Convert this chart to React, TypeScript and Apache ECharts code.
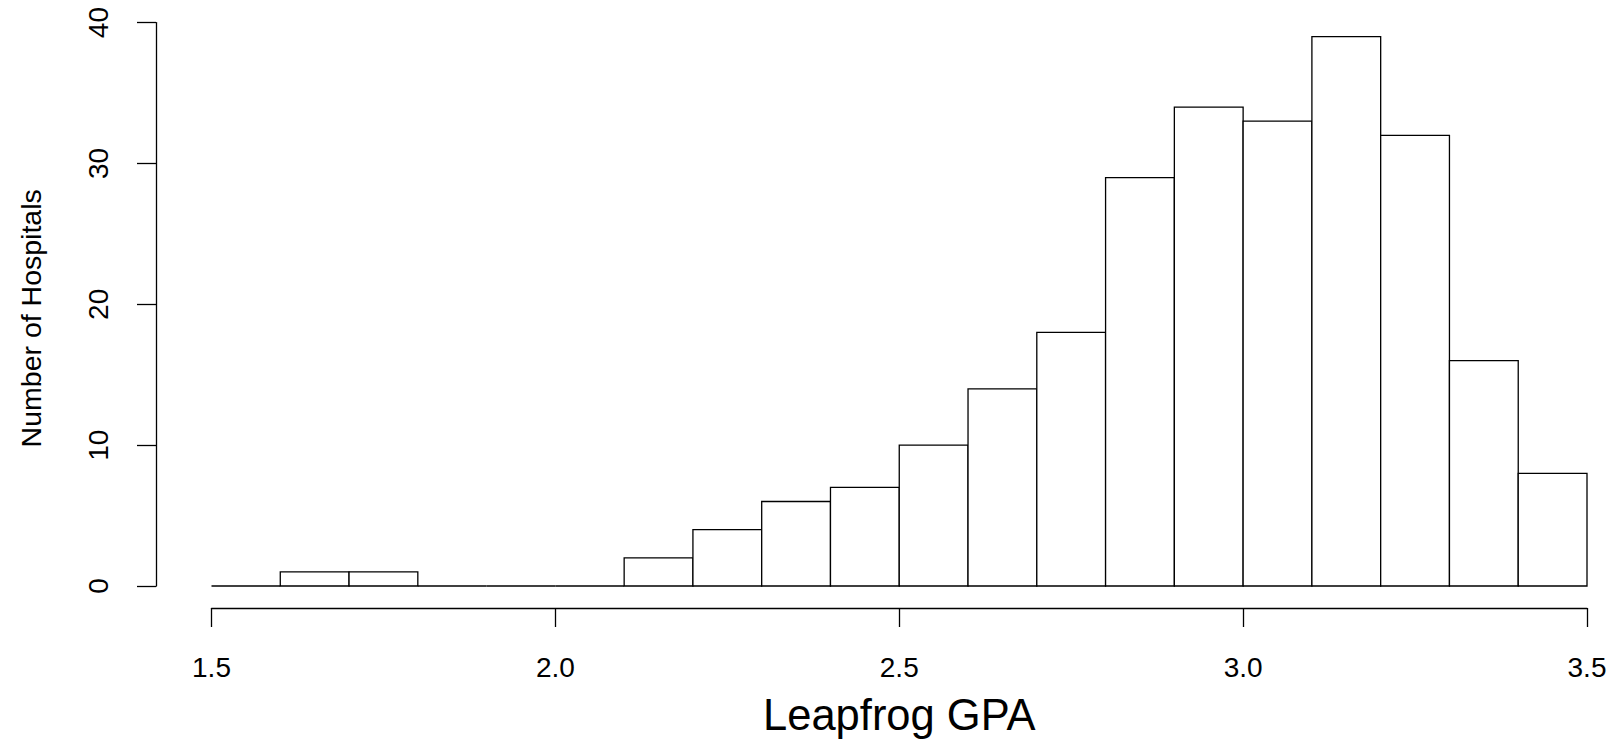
import React, { useEffect, useRef } from "react";
import * as echarts from "echarts";

const binStarts = [1.5, 1.6, 1.7, 1.8, 1.9, 2.0, 2.1, 2.2, 2.3, 2.4, 2.5, 2.6, 2.7, 2.8, 2.9, 3.0, 3.1, 3.2, 3.3, 3.4];
const binEnds = [1.6, 1.7, 1.8, 1.9, 2.0, 2.1, 2.2, 2.3, 2.4, 2.5, 2.6, 2.7, 2.8, 2.9, 3.0, 3.1, 3.2, 3.3, 3.4, 3.5];
const counts = [0, 1, 1, 0, 0, 0, 2, 4, 6, 7, 10, 14, 18, 29, 34, 33, 39, 32, 16, 8];

const xTitle = "Leapfrog GPA";
const yTitle = "Number of Hospitals";

export default function App() {
  const ref = useRef<HTMLDivElement>(null);
  useEffect(() => {
    if (!ref.current) return;
    const chart = echarts.init(ref.current, undefined, { renderer: "svg" });
    const data = binStarts.map((s, i) => [s, binEnds[i], counts[i]]);
    const font = "Liberation Sans, Arial, sans-serif";
    chart.setOption({
      animation: false,
      backgroundColor: "#ffffff",
      grid: { left: 211.5, right: 27, top: 22.6, bottom: 153.7, containLabel: false },
      xAxis: {
        type: "value",
        min: 1.5,
        max: 3.5,
        interval: 0.5,
        offset: 22,
        name: xTitle,
        nameLocation: "middle",
        nameGap: 85,
        nameTextStyle: { fontFamily: font, fontSize: 43.5, color: "#000" },
        axisLine: { show: true, onZero: false, lineStyle: { color: "#000", width: 1.3 } },
        axisTick: { show: true, length: 19, lineStyle: { color: "#000", width: 1.3 } },
        axisLabel: {
          fontFamily: font,
          fontSize: 28,
          color: "#000",
          margin: 45,
          showMinLabel: true,
          showMaxLabel: true,
          formatter: (v: number) => v.toFixed(1),
        },
        splitLine: { show: false },
      },
      yAxis: {
        type: "value",
        min: 0,
        max: 40,
        interval: 10,
        offset: 55.5,
        name: yTitle,
        nameLocation: "middle",
        nameGap: 111,
        nameRotate: 90,
        nameTextStyle: { fontFamily: font, fontSize: 28.5, color: "#000", padding: [0, 28, 0, 0] },
        axisLine: { show: true, onZero: false, lineStyle: { color: "#000", width: 1.3 } },
        axisTick: { show: true, length: 19, lineStyle: { color: "#000", width: 1.3 } },
        axisLabel: {
          fontFamily: font,
          fontSize: 28,
          color: "#000",
          rotate: 90,
          margin: 44,
          showMinLabel: true,
          showMaxLabel: true,
        },
        splitLine: { show: false },
      },
      series: [
        {
          type: "custom",
          data,
          encode: { x: [0, 1], y: 2 },
          renderItem: (params: any, api: any) => {
            const x0 = api.value(0);
            const x1 = api.value(1);
            const y = api.value(2);
            const p0 = api.coord([x0, y]);
            const p1 = api.coord([x1, 0]);
            if (y === 0) {
              return {
                type: "line",
                shape: { x1: p0[0], y1: p1[1], x2: p1[0], y2: p1[1] },
                style: { stroke: "#000", lineWidth: 1.3 },
              };
            }
            return {
              type: "rect",
              shape: { x: p0[0], y: p0[1], width: p1[0] - p0[0], height: p1[1] - p0[1] },
              style: { fill: "#ffffff", stroke: "#000", lineWidth: 1.3 },
            };
          },
        },
      ],
    });
    return () => chart.dispose();
  }, []);
  return (
    <div
      ref={ref}
      style={{ position: "fixed", left: 0, top: 0, width: 1614, height: 742, background: "#fff" }}
    />
  );
}
